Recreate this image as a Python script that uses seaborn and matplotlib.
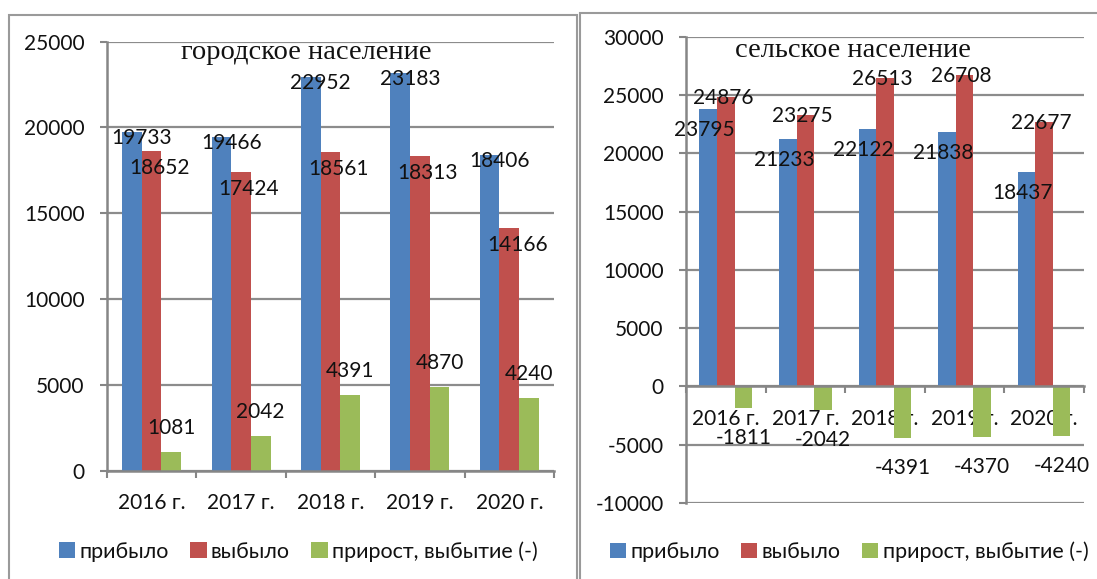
"""
Migration of urban and rural population, 2016-2020: arrivals, departures, net change.
"""
import matplotlib
matplotlib.use("Agg")
import matplotlib.pyplot as plt
from matplotlib.patches import Patch, Rectangle
import seaborn as sns
import pandas as pd

years = ["2016 г.", "2017 г.", "2018 г.", "2019 г.", "2020 г."]
series = ["прибыло", "выбыло", "прирост, выбытие (-)"]

urban_arrived = [19733, 19466, 22952, 23183, 18406]
urban_left = [18652, 17424, 18561, 18313, 14166]
urban_net = [1081, 2042, 4391, 4870, 4240]

rural_arrived = [23795, 21233, 22122, 21838, 18437]
rural_left = [24876, 23275, 26513, 26708, 22677]
rural_net = [-1811, -2042, -4391, -4370, -4240]

colors = ["#4F81BD", "#C0504D", "#9BBB59"]
GRID = "#8c8c8c"
SPINE = "#868686"
FS = 15

sns.set_style("white")
plt.rcParams["font.family"] = ["Lato", "DejaVu Sans"]
plt.rcParams["axes.unicode_minus"] = False
plt.rcParams["text.color"] = "#111111"
plt.rcParams["xtick.color"] = "#111111"
plt.rcParams["ytick.color"] = "#111111"


def to_frame(arrived, left, net):
    rows = []
    for vals, name in zip([arrived, left, net], series):
        for y, v in zip(years, vals):
            rows.append({"year": y, "series": name, "value": v})
    return pd.DataFrame(rows)


def draw_panel(ax, df, ylim, step, title, title_xy, offsets):
    sns.barplot(data=df, x="year", y="value", hue="series", order=years,
                hue_order=series, palette=colors, saturation=1, width=0.66,
                gap=0, errorbar=None, legend=False, ax=ax, linewidth=0)
    ax.set_ylim(*ylim)
    ax.set_xlim(-0.5, len(years) - 0.5)
    ax.set_yticks(range(ylim[0], ylim[1] + 1, step))
    ax.yaxis.grid(True, color=GRID, linewidth=1.6)
    ax.set_axisbelow(True)
    ax.set_xlabel("")
    ax.set_ylabel("")
    for s in ["top", "right"]:
        ax.spines[s].set_visible(False)
    for s in ["left", "bottom"]:
        ax.spines[s].set_color(SPINE)
        ax.spines[s].set_linewidth(1.8)
    ax.spines["bottom"].set_position(("data", 0))
    ax.tick_params(axis="y", left=True, length=5, width=1.5, color=SPINE,
                   pad=11, labelsize=FS, labelcolor="#111111")
    ax.tick_params(axis="x", which="major", length=0, pad=16, labelsize=FS,
                   labelcolor="#111111")
    ax.set_xticks([i - 0.5 for i in range(len(years) + 1)], minor=True)
    ax.tick_params(axis="x", which="minor", bottom=True, length=5, width=1.5,
                   color=SPINE, direction="out")

    # data labels, placed relative to the end of each bar
    for cont, (dx, dy) in zip(ax.containers, offsets):
        for bar in cont:
            val = bar.get_y() + bar.get_height() if bar.get_y() >= 0 else bar.get_y()
            sign = -1 if val < 0 else 1
            ax.annotate(f"{int(round(val))}",
                        xy=(bar.get_x() + bar.get_width() / 2, val),
                        xytext=(dx, dy * sign), textcoords="offset points",
                        ha="center", va="center", fontsize=FS, color="#111111")

    ax.text(title_xy[0], title_xy[1], title, transform=ax.transAxes,
            ha="center", va="center", fontsize=20.5,
            family=["Liberation Serif", "DejaVu Serif"], color="#111111")


fig = plt.figure(figsize=(10.97, 5.79), dpi=100)

# panel frames
fig.patches.append(Rectangle((0.0082, -0.02), 0.5178, 0.994, transform=fig.transFigure,
                             fill=False, edgecolor="#9a9a9a", linewidth=1.5))
fig.patches.append(Rectangle((0.5287, -0.02), 0.5, 0.998, transform=fig.transFigure,
                             fill=False, edgecolor="#9a9a9a", linewidth=1.5))

ax1 = fig.add_axes([0.0975, 0.1870, 0.4075, 0.7410])
ax2 = fig.add_axes([0.6253, 0.1313, 0.3628, 0.8048])

px = 0.72  # pixels -> points at dpi 100
draw_panel(ax1, to_frame(urban_arrived, urban_left, urban_net), (0, 25000), 5000,
           "городское население", (0.445, 0.975),
           [(10 * px, -6 * px), (8 * px, -17 * px), (0, 24 * px)])
draw_panel(ax2, to_frame(rural_arrived, rural_left, rural_net), (-10000, 30000), 5000,
           "сельское население", (0.42, 0.97),
           [(-4 * px, -21 * px), (-3 * px, -1 * px), (0, 30 * px)])

handles = [Patch(facecolor=c, edgecolor="none") for c in colors]
for xc, yc in [(0.272, 0.048), (0.774, 0.047)]:
    fig.legend(handles, series, loc="center", bbox_to_anchor=(xc, yc), ncol=3,
               frameon=False, fontsize=15.5, handlelength=0.75, handleheight=0.75,
               handletextpad=0.2, columnspacing=1.0, borderaxespad=0)

fig.savefig("out.png", dpi=100)
